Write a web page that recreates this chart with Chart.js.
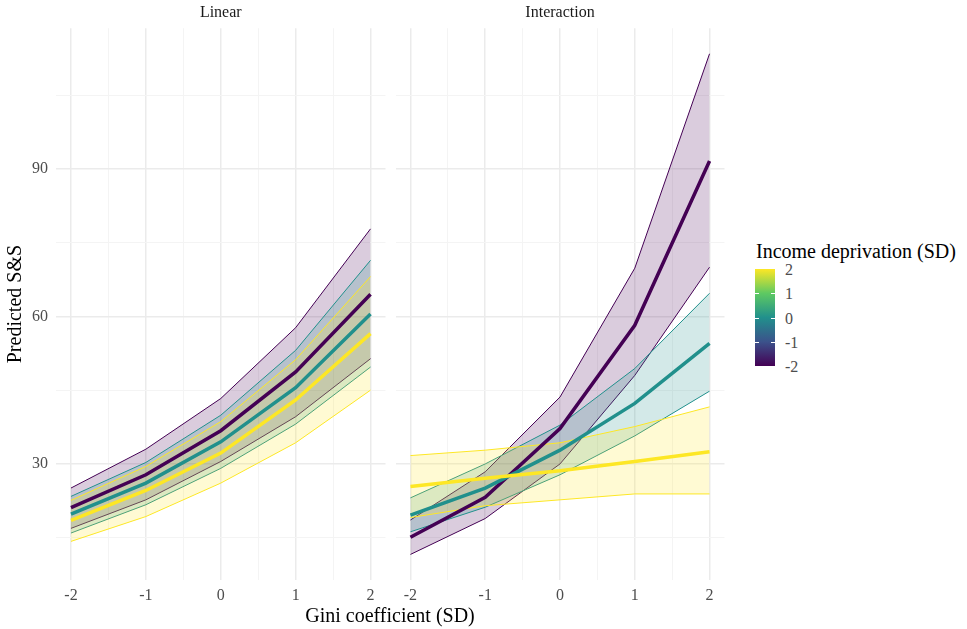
<!DOCTYPE html>
<html lang="en">
   <head>
      <meta charset="UTF-8" />
      <title>Predicted S&amp;S</title>
      <style>
         body { margin: 0; background: #ffffff; font-family: "Liberation Serif", "Times New Roman", serif; }
         #main { position: relative; width: 967px; height: 629px; overflow: hidden; }
         canvas { position: absolute; top: 0; }
         #chart_linear { left: 0; }
         #chart_interaction { left: 390px; }
         .x_title {
            position: absolute; left: 0; width: 780px; top: 605px;
            text-align: center; font-size: 20px; line-height: 20px; color: #000;
         }
         .legend_title {
            position: absolute; left: 756px; top: 241px;
            font-size: 20px; line-height: 20px; white-space: nowrap; color: #000;
         }
         .legend_bar {
            position: absolute; left: 755px; top: 269px; width: 20px; height: 97px;
            background: linear-gradient(to top, #440154, #3b528b, #21908c, #5ec962, #fde725);
         }
         .legend_label {
            position: absolute; left: 785px; font-size: 16px; line-height: 16px; color: #4d4d4d;
         }
         .legend_tick { position: absolute; width: 4px; height: 1px; background: #ffffff; }
      </style>
   </head>
   <body>
      <div id="main">
         <canvas id="chart_linear" width="390" height="629"></canvas>
         <canvas id="chart_interaction" width="340" height="629"></canvas>
         <div class="x_title">Gini coefficient (SD)</div>
         <div class="legend_title">Income deprivation (SD)</div>
         <div class="legend_bar" id="legend_bar"></div>
      </div>
   </body>
</html>

<script src="https://cdn.jsdelivr.net/npm/chart.js"></script>
<script>
   // eixo x e grades
   const gini_x = [-2, -1, 0, 1, 2];
   const x_grid = [-2, -1.5, -1, -0.5, 0, 0.5, 1, 1.5, 2];
   const y_grid = [15, 30, 45, 60, 75, 90, 105];
   const y_labels = [30, 60, 90];
   const legend_ticks = [2, 1, 0, -1, -2];

   // niveis de income deprivation desenhados: -2, 0, 2
   const level_colors = ["#440154", "#21908C", "#FDE725"];
   const level_fills = ["rgba(68,1,84,0.2)", "rgba(33,144,140,0.2)", "rgba(253,231,37,0.2)"];

   // painel Linear
   const linear_lower_m2 = [16.9, 22.7, 30.5, 39.6, 51.4];
   const linear_mean_m2 = [21.1, 27.8, 36.75, 48.7, 64.5];
   const linear_upper_m2 = [25.1, 33.0, 43.3, 57.7, 77.8];
   const linear_lower_0 = [15.95, 21.7, 29.1, 38.1, 49.7];
   const linear_mean_0 = [19.8, 26.1, 34.5, 45.5, 60.5];
   const linear_upper_0 = [23.4, 30.3, 39.9, 53.1, 71.4];
   const linear_lower_p2 = [14.25, 19.3, 26.1, 34.3, 45.0];
   const linear_mean_p2 = [18.5, 24.6, 32.2, 43.0, 56.5];
   const linear_upper_p2 = [22.6, 29.5, 38.6, 51.2, 68.1];

   // painel Interaction
   const inter_lower_m2 = [11.6, 18.9, 30.0, 48.0, 70.0];
   const inter_mean_m2 = [15.1, 23.2, 37.2, 58.2, 91.6];
   const inter_upper_m2 = [18.6, 28.4, 43.6, 69.8, 113.4];
   const inter_lower_0 = [16.2, 21.2, 27.8, 35.7, 44.8];
   const inter_mean_0 = [19.6, 25.1, 32.8, 42.3, 54.5];
   const inter_upper_0 = [23.1, 30.0, 37.9, 49.4, 64.7];
   const inter_lower_p2 = [19.1, 21.5, 22.7, 23.9, 23.9];
   const inter_mean_p2 = [25.4, 27.1, 28.6, 30.5, 32.5];
   const inter_upper_p2 = [31.7, 32.8, 34.3, 37.6, 41.6];

   const font_family = "'Liberation Serif', 'Times New Roman', serif";

   function pontos(valores) {
      return gini_x.map((x, i) => ({ x: x, y: valores[i] }));
   }

   // ribbons primeiro (roxo embaixo, amarelo em cima), depois as linhas medias
   function montar_datasets(lowers, means, uppers) {
      const datasets = [];
      for (let i = 0; i < 3; i++) {
         datasets.push({
            data: pontos(lowers[i]),
            borderColor: level_colors[i],
            borderWidth: 1,
            pointRadius: 0,
            fill: false,
            order: 3 - i,
         });
         datasets.push({
            data: pontos(uppers[i]),
            borderColor: level_colors[i],
            borderWidth: 1,
            pointRadius: 0,
            backgroundColor: level_fills[i],
            fill: "-1",
            order: 3 - i,
         });
      }
      for (let i = 0; i < 3; i++) {
         datasets.push({
            data: pontos(means[i]),
            borderColor: level_colors[i],
            borderWidth: 3.5,
            pointRadius: 0,
            fill: false,
            order: -i,
         });
      }
      return datasets;
   }

   function grid_major(values) {
      return {
         color: (c) => (c.tick && values.includes(c.tick.value) ? "#ebebeb" : "#f4f4f4"),
         lineWidth: (c) => (c.tick && values.includes(c.tick.value) ? 1.5 : 1),
         drawTicks: false,
      };
   }

   function montar_scales(show_y) {
      return {
         x: {
            type: "linear",
            min: -2.2,
            max: 2.2,
            bounds: "data",
            afterBuildTicks: (s) => { s.ticks = x_grid.map((v) => ({ value: v })); },
            afterFit: (s) => { s.height = 49; },
            grid: grid_major(gini_x),
            border: { display: false },
            ticks: {
               autoSkip: false,
               maxRotation: 0,
               padding: 6,
               color: "#4d4d4d",
               font: { family: font_family, size: 16 },
               callback: (v) => (gini_x.includes(v) ? String(v) : ""),
            },
         },
         y: {
            type: "linear",
            min: 6.4,
            max: 118.6,
            bounds: "data",
            afterBuildTicks: (s) => { s.ticks = y_grid.map((v) => ({ value: v })); },
            afterFit: (s) => { s.width = show_y ? 56 : 0; },
            grid: grid_major(y_labels),
            border: { display: false },
            ticks: {
               display: show_y,
               autoSkip: false,
               padding: 8,
               color: "#4d4d4d",
               font: { family: font_family, size: 16 },
               callback: (v) => (y_labels.includes(v) ? String(v) : ""),
            },
            title: {
               display: show_y,
               text: "Predicted S&S",
               color: "#000000",
               font: { family: font_family, size: 20 },
               padding: { top: 4, bottom: 0 },
            },
         },
      };
   }

   function montar_config(titulo, datasets, show_y, padding) {
      return {
         type: "line",
         data: { datasets: datasets },
         options: {
            responsive: false,
            animation: false,
            layout: { padding: padding },
            scales: montar_scales(show_y),
            plugins: {
               legend: { display: false },
               tooltip: { enabled: false },
               title: {
                  display: true,
                  text: titulo,
                  fullSize: false,
                  color: "#1a1a1a",
                  font: { family: font_family, size: 16, weight: "normal" },
                  padding: { top: 3, bottom: 6 },
               },
            },
         },
      };
   }

   const grafico_linear = new Chart(
      document.getElementById("chart_linear"),
      montar_config(
         "Linear",
         montar_datasets(
            [linear_lower_m2, linear_lower_0, linear_lower_p2],
            [linear_mean_m2, linear_mean_0, linear_mean_p2],
            [linear_upper_m2, linear_upper_0, linear_upper_p2]
         ),
         true,
         { left: 0, right: 4.5, top: 0, bottom: 0 }
      )
   );

   const grafico_interaction = new Chart(
      document.getElementById("chart_interaction"),
      montar_config(
         "Interaction",
         montar_datasets(
            [inter_lower_m2, inter_lower_0, inter_lower_p2],
            [inter_mean_m2, inter_mean_0, inter_mean_p2],
            [inter_upper_m2, inter_upper_0, inter_upper_p2]
         ),
         false,
         { left: 5.5, right: 5.5, top: 0, bottom: 0 }
      )
   );

   // legenda (barra de cor) com rotulos
   const main = document.getElementById("main");
   const bar_top = 269;
   const bar_height = 97;
   legend_ticks.forEach((v, i) => {
      const y = bar_top + (i * bar_height) / (legend_ticks.length - 1);
      const label = document.createElement("div");
      label.className = "legend_label";
      label.style.top = (y + 1 - 8) + "px";
      label.textContent = String(v);
      main.appendChild(label);
      if (i > 0 && i < legend_ticks.length - 1) {
         [755, 771].forEach((x) => {
            const tick = document.createElement("div");
            tick.className = "legend_tick";
            tick.style.left = x + "px";
            tick.style.top = Math.round(y) + "px";
            main.appendChild(tick);
         });
      }
   });
</script>
